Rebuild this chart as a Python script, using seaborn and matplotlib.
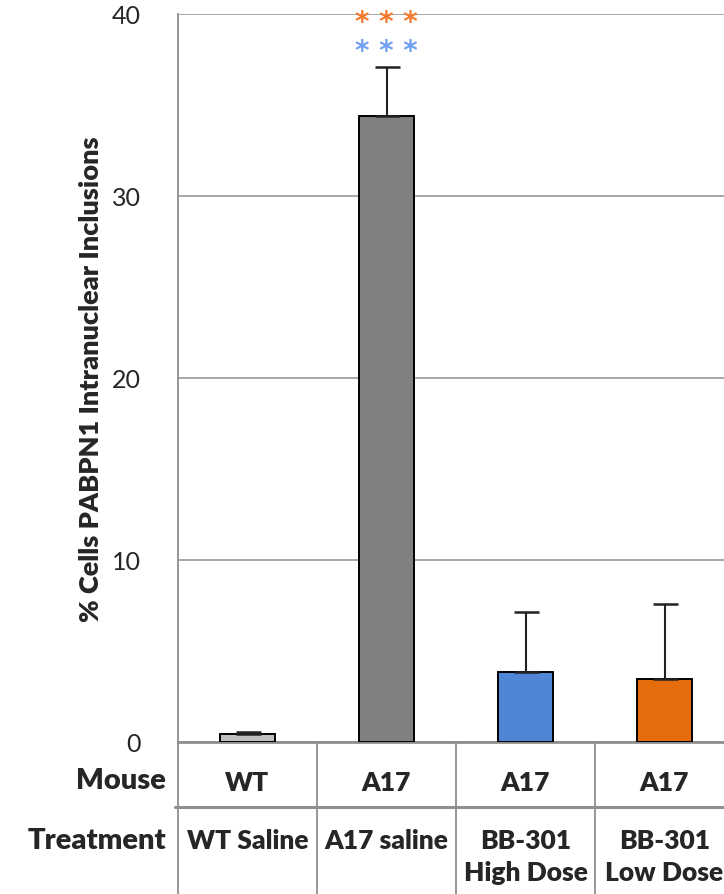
import matplotlib
matplotlib.use("Agg")
import matplotlib.pyplot as plt
import matplotlib.transforms as mtransforms
from matplotlib.lines import Line2D
import seaborn as sns
import pandas as pd

# chart data
groups = ['WT Saline', 'A17 saline', 'BB-301 High Dose', 'BB-301 Low Dose']
mouse = ['WT', 'A17', 'A17', 'A17']
treatment = ['WT Saline', 'A17 saline', 'BB-301\nHigh Dose', 'BB-301\nLow Dose']
pct_inclusions = [0.45, 34.4, 3.86, 3.46]
sem = [0.08, 2.7, 3.3, 4.1]
bar_colors = ['#bfbfbf', '#808080', '#4f86d6', '#e46c0a']
y_ticks = [0, 10, 20, 30, 40]

W, H = 724, 895
sns.set_theme(style='white')
plt.rcParams['font.family'] = ['Lato', 'DejaVu Sans']

fig = plt.figure(figsize=(W / 100, H / 100), dpi=100)


def fx(px):
    return px / W


def fy(py):
    return 1 - py / H


# plot area: x from 178 px, baseline at 743 px, top (40) at 15 px
ax = fig.add_axes([fx(178), fy(743), fx(724) - fx(178), fy(15) - fy(743)])

df = pd.DataFrame({'group': groups, 'value': pct_inclusions})
sns.barplot(data=df, x='group', y='value', hue='group', palette=bar_colors,
            saturation=1, legend=False, errorbar=None, width=0.4,
            edgecolor='black', linewidth=1.4, ax=ax, zorder=3)
ax.errorbar(range(len(groups)), pct_inclusions,
            yerr=[[0] * len(sem), sem], fmt='none', ecolor='#222222',
            elinewidth=1.5, capsize=9, capthick=1.8, zorder=4)

ax.set_ylim(0, 40)
ax.set_xlim(-0.5, -0.5 + (724 - 178) / 139)
ax.set_yticks(y_ticks)
ax.yaxis.grid(True, color='#8f8f8f', linewidth=1.1, zorder=0)
ax.set_axisbelow(True)
ax.set_xticks([])
ax.set_xlabel('')
ax.set_ylabel('% Cells PABPN1 Intranuclear Inclusions', fontsize=19.5,
              fontweight='heavy', labelpad=6)
ax.tick_params(axis='y', length=0, pad=27, labelsize=18, labelcolor='#262626')
for side in ['top', 'right']:
    ax.spines[side].set_visible(False)
ax.spines['left'].set_color('#8f8f8f')
ax.spines['left'].set_linewidth(1.3)
ax.spines['bottom'].set_color('#8f8f8f')
ax.spines['bottom'].set_linewidth(2)

# significance asterisks above A17 saline
ax.text(1, 39.55, '* * *', color='#f47a2c', ha='center', va='center',
        fontsize=20, fontweight='bold', family='DejaVu Sans')
ax.text(1, 37.95, '* * *', color='#6f9ff2', ha='center', va='center',
        fontsize=20, fontweight='bold', family='DejaVu Sans')

# table under the chart
trans = mtransforms.blended_transform_factory(ax.transData, fig.transFigure)
for i in range(len(groups)):
    ax.text(i, fy(783), mouse[i], transform=trans, ha='center', va='center',
            fontsize=19, fontweight='heavy', clip_on=False)
    ax.text(i, fy(829), treatment[i], transform=trans, ha='center', va='top',
            fontsize=19, fontweight='heavy', linespacing=1.38, clip_on=False)
fig.text(fx(166), fy(781), 'Mouse', ha='right', va='center', fontsize=21,
         fontweight='heavy')
fig.text(fx(166), fy(841), 'Treatment', ha='right', va='center', fontsize=21,
         fontweight='heavy')

grid_c = '#8f8f8f'
fig.add_artist(Line2D([fx(175), 1], [fy(808), fy(808)], color=grid_c, lw=2.2))
fig.add_artist(Line2D([fx(178), fx(178)], [fy(743), 0], color=grid_c, lw=1.3))
for b in [0.5, 1.5, 2.5]:
    ax.plot([b, b], [fy(743), 0], transform=trans, color=grid_c, lw=1.3,
            clip_on=False)

fig.savefig('out.png', dpi=100)
